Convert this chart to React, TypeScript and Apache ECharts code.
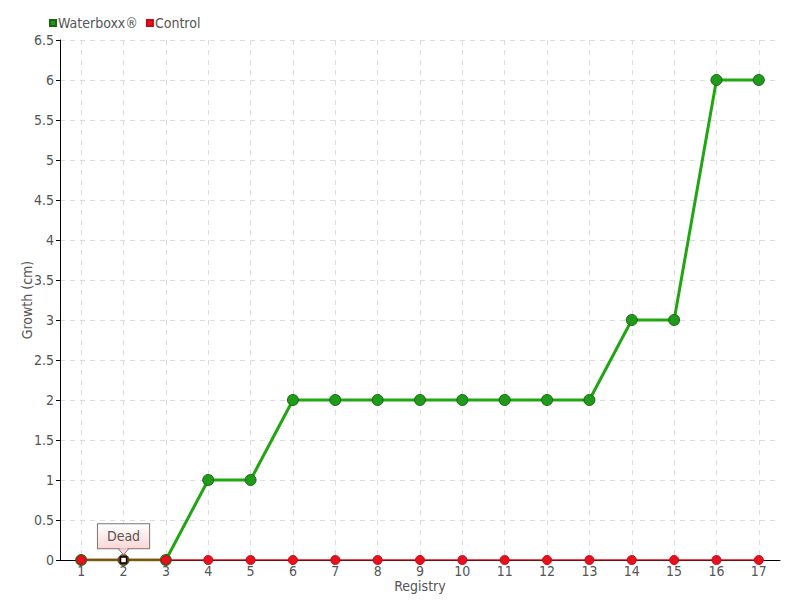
import React, { useEffect, useRef } from "react";
import * as echarts from "echarts";

const categories = ["1","2","3","4","5","6","7","8","9","10","11","12","13","14","15","16","17"];
const waterboxx = [0,0,0,1,1,2,2,2,2,2,2,2,2,3,3,6,6];
const control = [0,0,0,0,0,0,0,0,0,0,0,0,0,0,0,0,0];
const deadIndex = 1;
const deadLabel = "Dead";

const FONT = "'DejaVu Sans Condensed', 'Liberation Sans Narrow', sans-serif";
const TXT = "#555";

export default function App() {
  const ref = useRef<HTMLDivElement>(null);
  useEffect(() => {
    const chart = echarts.init(ref.current!, null, { renderer: "svg" });
    chart.setOption({
      animation: false,
      backgroundColor: "#fff",
      textStyle: { fontFamily: FONT },
      legend: {
        left: 44,
        top: 11,
        itemWidth: 6,
        itemHeight: 6,
        itemGap: 8,
        icon: "rect",
        textStyle: { fontFamily: FONT, fontSize: 14, color: TXT, padding: [0, 0, 0, -3] },
        data: ["Waterboxx®", "Control"],
      },
      grid: { left: 60, right: 20, top: 40, bottom: 40, outerBoundsMode: "none", containLabel: false },
      xAxis: {
        type: "category",
        data: categories,
        boundaryGap: true,
        name: "Registry",
        nameLocation: "middle",
        nameGap: 19,
        nameMoveOverlap: false,
        nameTextStyle: { fontFamily: FONT, fontSize: 14, color: TXT },
        axisLine: { lineStyle: { color: "#000", width: 1 } },
        axisTick: { show: false },
        axisLabel: { fontFamily: FONT, fontSize: 14, color: TXT, margin: 4 },
        splitLine: { show: true, alignWithLabel: true, lineStyle: { color: "#ddd", type: [5, 5] } },
      },
      yAxis: {
        type: "value",
        min: 0,
        max: 6.5,
        interval: 0.5,
        name: "Growth (cm)",
        nameLocation: "middle",
        nameGap: 26,
        nameMoveOverlap: false,
        nameRotate: 90,
        nameTextStyle: { fontFamily: FONT, fontSize: 14, color: TXT },
        axisLine: { show: true, lineStyle: { color: "#000", width: 1 } },
        axisTick: { show: true, length: 4, lineStyle: { color: "#000" } },
        axisLabel: { fontFamily: FONT, fontSize: 14, color: TXT, margin: 6 },
        splitLine: { show: true, lineStyle: { color: "#ddd", type: [5, 5] } },
      },
      series: [
        {
          name: "Waterboxx®",
          type: "line",
          data: waterboxx,
          symbol: "circle",
          symbolSize: 11,
          itemStyle: { color: "#1f9a1b", borderColor: "#17670f", borderWidth: 1 },
          lineStyle: { color: "#22a512", width: 3 },
          z: 2,
        },
        {
          name: "Control",
          type: "line",
          data: control,
          symbol: "circle",
          symbolSize: 9,
          itemStyle: { color: "#e8101e", borderColor: "#c00d18", borderWidth: 1 },
          lineStyle: { color: "#e0101c", width: 1.5 },
          z: 3,
          markPoint: {
            symbol: "rect",
            symbolSize: 6,
            itemStyle: { color: "#fff", borderColor: "#000", borderWidth: 1.5 },
            label: {
              show: true,
              position: "top",
              distance: 8,
              formatter: deadLabel,
              fontFamily: FONT,
              fontSize: 14,
              color: TXT,
              padding: [5, 9, 5, 9],
              borderColor: "#777",
              borderWidth: 1,
              backgroundColor: {
                type: "linear",
                x: 0, y: 0, x2: 0, y2: 1,
                colorStops: [
                  { offset: 0, color: "#ffffff" },
                  { offset: 1, color: "#fcd6d6" },
                ],
              },
            },
            data: [{ coord: [deadIndex, control[deadIndex]] }],
          },
        },
      ],
    });
    const p = chart.convertToPixel({ gridIndex: 0 }, [deadIndex, control[deadIndex]]) as number[];
    if (p) {
      const tipY = p[1] - 5;
      const baseY = p[1] - 11;
      chart.setOption({
        graphic: [
          {
            type: "polygon",
            z: 100,
            shape: { points: [[p[0] - 5, baseY], [p[0] + 5, baseY], [p[0], tipY]] },
            style: { fill: "#fcd6d6", stroke: "#777", lineWidth: 1 },
          },
          {
            type: "line",
            z: 101,
            shape: { x1: p[0] - 4, y1: baseY, x2: p[0] + 4, y2: baseY },
            style: { stroke: "#fcd6d6", lineWidth: 1.5 },
          },
        ],
      });
    }
    return () => chart.dispose();
  }, []);
  return <div ref={ref} style={{ width: 800, height: 600, position: "absolute", left: 0, top: 0 }} />;
}
